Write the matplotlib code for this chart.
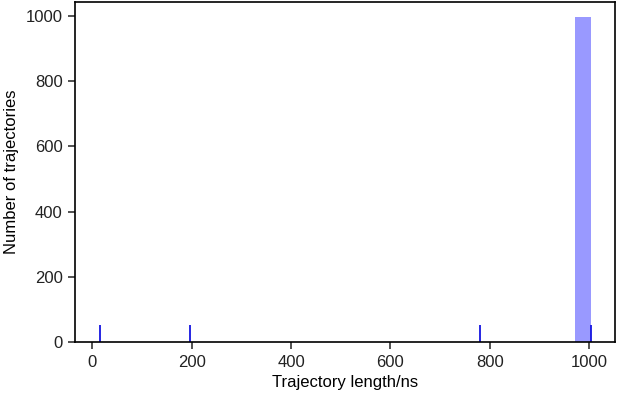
import matplotlib
matplotlib.use("Agg")
import matplotlib.pyplot as plt
import numpy as np

# trajectory lengths (ns) and how many trajectories have each length
longitudes = [15, 196, 780, 1004]
cuentas = [1, 1, 1, 997]

datos = np.repeat(longitudes, cuentas)

plt.rcParams['font.family'] = ['Liberation Sans', 'DejaVu Sans']
plt.rcParams['font.size'] = 12

fig = plt.figure(figsize=(6.17, 3.98), dpi=100)
ax = fig.add_axes([0.1216, 0.1407, 0.8752, 0.8543])

# histograma
ax.hist(datos, bins=31, color='#9999ff', edgecolor='none')

# rug
ax.vlines(longitudes, 0, 0.05, transform=ax.get_xaxis_transform(), color='#1515e0', linewidth=1.3)

ax.set_xlim(-35, 1052)
ax.set_ylim(0, 1043)
ax.set_xticks([0, 200, 400, 600, 800, 1000])
ax.set_yticks([0, 200, 400, 600, 800, 1000])
ax.set_xlabel('Trajectory length/ns', labelpad=4)
ax.set_ylabel('Number of trajectories', labelpad=5)

for s in ax.spines.values():
    s.set_linewidth(1.2)
ax.tick_params(direction='out', length=5, width=1.1, pad=4, colors='#222222', labelcolor='#222222')

plt.savefig('out.png', dpi=100)
